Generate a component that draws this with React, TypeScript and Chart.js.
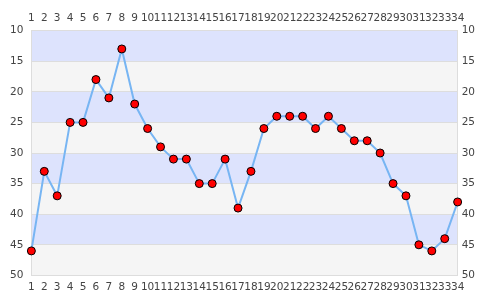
import React, { useEffect, useRef } from "react";
import { Chart, registerables } from "chart.js";

Chart.register(...registerables);

const categories = Array.from({ length: 34 }, (_, i) => String(i + 1));
const values = [46, 33, 37, 25, 25, 18, 21, 13, 22, 26, 29, 31, 31, 35, 35, 31, 39, 33, 26, 24, 24, 24, 26, 24, 26, 28, 28, 30, 35, 37, 45, 46, 44, 38];
const bandEdges = [10, 15, 20, 25, 30, 35, 40, 45, 50];
const bandColors = ["#dde3fd", "#f5f5f5"];

const bandsPlugin = {
  id: "bands",
  beforeDraw(chart: any) {
    const { ctx, chartArea, scales } = chart;
    const y = scales.y;
    ctx.save();
    for (let i = 0; i < bandEdges.length - 1; i++) {
      const a = y.getPixelForValue(bandEdges[i]);
      const b = y.getPixelForValue(bandEdges[i + 1]);
      ctx.fillStyle = bandColors[i % 2];
      ctx.fillRect(chartArea.left, Math.min(a, b), chartArea.right - chartArea.left, Math.abs(b - a));
    }
    ctx.restore();
  },
};

export default function App() {
  const ref = useRef<HTMLCanvasElement>(null);
  useEffect(() => {
    document.body.style.margin = "0";
    const tickFont = { family: "DejaVu Sans", size: 10.5 };
    const tickColor = "#444";
    const chart = new Chart(ref.current!, {
      type: "line",
      data: {
        labels: categories,
        datasets: [
          {
            data: values,
            borderColor: "#77b5f3",
            borderWidth: 2,
            pointBackgroundColor: "#ff0000",
            pointBorderColor: "#000",
            pointBorderWidth: 1,
            pointRadius: 4,
            tension: 0,
            xAxisID: "x",
            yAxisID: "y",
          },
        ],
      },
      options: {
        animation: false,
        responsive: false,
        layout: { padding: { top: 6, bottom: 0, left: 2, right: 6 } },
        plugins: { legend: { display: false }, tooltip: { enabled: false } },
        scales: {
          x: {
            type: "category",
            offset: false,
            position: "bottom",
            grid: { display: false, drawTicks: false },
            border: { color: "#ddd" },
            ticks: { autoSkip: false, maxRotation: 0, minRotation: 0, font: tickFont, color: tickColor, padding: 6 },
          },
          x2: {
            type: "category",
            labels: categories,
            offset: false,
            position: "top",
            grid: { display: false, drawTicks: false },
            border: { color: "#ddd" },
            ticks: { autoSkip: false, maxRotation: 0, minRotation: 0, font: tickFont, color: tickColor, padding: 6 },
          },
          y: {
            reverse: true,
            min: 10,
            max: 50,
            position: "left",
            grid: { color: "#dddddd", drawTicks: false },
            border: { color: "#ddd" },
            ticks: { stepSize: 5, font: tickFont, color: tickColor, padding: 8 },
          },
          y2: {
            reverse: true,
            min: 10,
            max: 50,
            position: "right",
            grid: { display: false, drawTicks: false },
            border: { color: "#ddd" },
            ticks: { stepSize: 5, font: tickFont, color: tickColor, padding: 4 },
          },
        },
      },
      plugins: [bandsPlugin],
    } as any);
    return () => chart.destroy();
  }, []);
  return (
    <div style={{ width: 485, height: 300 }}>
      <canvas ref={ref} width={485} height={300} />
    </div>
  );
}
